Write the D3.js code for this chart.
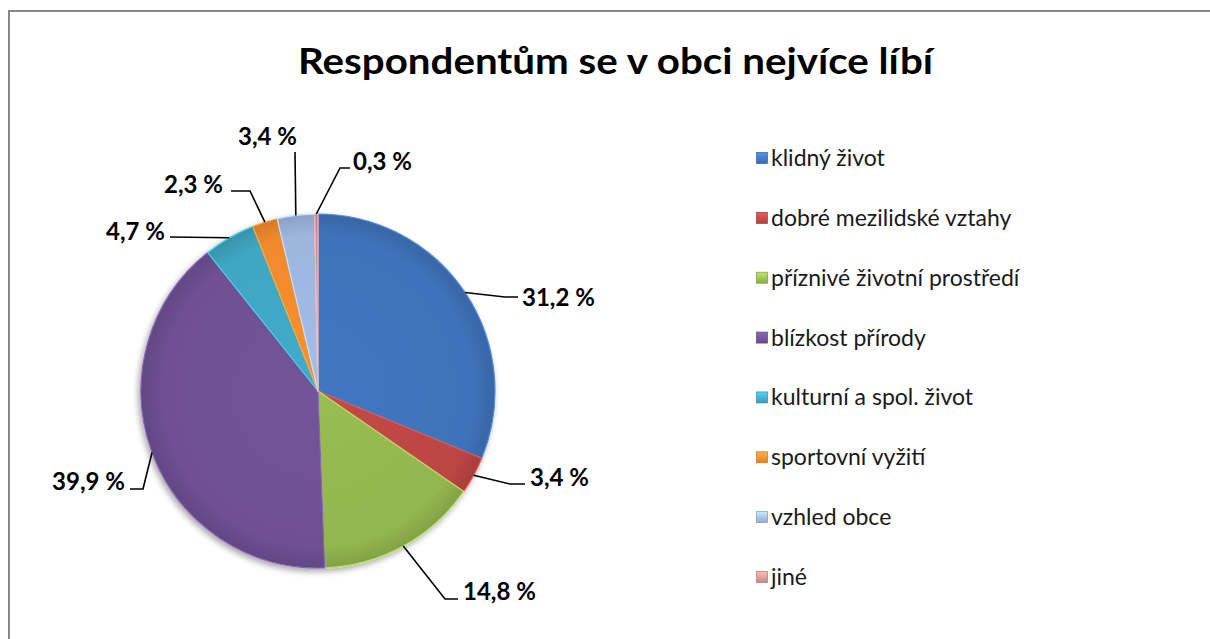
<!DOCTYPE html>
<html><head><meta charset="utf-8">
<script src="https://cdn.jsdelivr.net/npm/d3@7"></script>
<style>html,body{margin:0;padding:0;background:#fff;overflow:hidden}</style>
</head><body>
<svg id="chart" width="1210" height="639" style="display:block"></svg>
<script>
const categories = ["klidný život","dobré mezilidské vztahy","příznivé životní prostředí","blízkost přírody","kulturní a spol. život","sportovní vyžití","vzhled obce","jiné"];
const values = [31.2, 3.4, 14.8, 39.9, 4.7, 2.3, 3.4, 0.3];
const valueLabels = ["31,2 %","3,4 %","14,8 %","39,9 %","4,7 %","2,3 %","3,4 %","0,3 %"];
const colors = ["#3E73BA","#BC4643","#93B64F","#6F5094","#3FA6C2","#F18A2E","#9DB6E0","#D4918F"];

// label layout (manually placed labels in the original): elbow/end offsets and text anchor, relative to pie center
const labelLayout = [
  {pts:[[187,-94],[200,-94]], tx:204, ty:-93, anchor:"start"},
  {pts:[[192,93],[207,93]], tx:212, ty:87, anchor:"start"},
  {pts:[[127,208],[140,208]], tx:145, ty:201, anchor:"start"},
  {pts:[[-175,98],[-188,98]], tx:-193, ty:91, anchor:"end"},
  {pts:[[-148,-154]], tx:-153, ty:-159, anchor:"end"},
  {pts:[[-68,-200],[-87,-200]], tx:-95, ty:-206, anchor:"end"},
  {pts:[[-23,-239]], tx:-21, ty:-254, anchor:"end"},
  {pts:[[22,-223],[32,-223]], tx:35, ty:-229, anchor:"start"}
];

const svg = d3.select("#chart");
const font = "Lato, 'Open Sans', sans-serif";

// outer frame (left and top edges visible)
svg.append("path").attr("d","M9,700 V11 H1300").attr("fill","none")
  .attr("stroke","#878787").attr("stroke-width",2);

// title
svg.append("text").attr("x",615.5).attr("y",74).attr("text-anchor","middle")
  .attr("font-family",font).attr("font-weight","bold").attr("font-size",37)
  .attr("textLength",635).attr("lengthAdjust","spacingAndGlyphs")
  .attr("fill","#000").text("Respondentům se v obci nejvíce líbí");

const cx = 318, cy = 391, r = 177;
const defs = svg.append("defs");
const sh = defs.append("filter").attr("id","shadow").attr("x","-20%").attr("y","-20%").attr("width","140%").attr("height","140%");
sh.append("feGaussianBlur").attr("in","SourceAlpha").attr("stdDeviation",3);
sh.append("feOffset").attr("dx",-2).attr("dy",3).attr("result","b");
sh.append("feComponentTransfer").append("feFuncA").attr("type","linear").attr("slope",0.35);
const m = sh.append("feMerge"); m.append("feMergeNode"); m.append("feMergeNode").attr("in","SourceGraphic");

colors.forEach((c,i)=>{
  const g = defs.append("radialGradient").attr("id","g"+i).attr("gradientUnits","userSpaceOnUse")
    .attr("cx",0).attr("cy",0).attr("r",r);
  g.append("stop").attr("offset","0%").attr("stop-color",d3.color(c).brighter(0.1));
  g.append("stop").attr("offset","88%").attr("stop-color",c);
  g.append("stop").attr("offset","100%").attr("stop-color",d3.color(c).darker(0.35));
  const lg = defs.append("linearGradient").attr("id","l"+i).attr("x1",0).attr("y1",0).attr("x2",0).attr("y2",1);
  lg.append("stop").attr("offset","0%").attr("stop-color",d3.color(c).brighter(0.7));
  lg.append("stop").attr("offset","100%").attr("stop-color",d3.color(c).darker(0.2));
});

const pie = d3.pie().sort(null).value(d=>d).startAngle(0).endAngle(2*Math.PI);
const arcs = pie(values);
const arc = d3.arc().innerRadius(0).outerRadius(r);
const g = svg.append("g").attr("transform",`translate(${cx},${cy})`);
g.append("g").attr("filter","url(#shadow)").selectAll("path").data(arcs).join("path")
  .attr("d",arc).attr("fill",(d,i)=>`url(#g${i})`)
  .attr("stroke",(d,i)=>d3.color(colors[i]).brighter(0.6)).attr("stroke-width",1.2).attr("stroke-linejoin","round");

// leader lines and labels
arcs.forEach((d,i)=>{
  const a = (d.startAngle+d.endAngle)/2;
  const p0 = [r*Math.sin(a), -r*Math.cos(a)];
  const L = labelLayout[i];
  const pts = [p0].concat(L.pts);
  g.append("path").attr("d",d3.line()(pts)).attr("fill","none").attr("stroke","#000").attr("stroke-width",1.6);
  g.append("text").attr("x",L.tx).attr("y",L.ty).attr("dy","0.35em").attr("text-anchor",L.anchor)
    .attr("font-family",font).attr("font-weight","bold").attr("font-size",24).attr("fill","#000")
    .text(valueLabels[i]);
});

// legend
const ly = d3.scalePoint().domain(categories).range([158,577]);
const leg = svg.append("g");
categories.forEach((c,i)=>{
  const y = ly(c);
  leg.append("rect").attr("x",756.5).attr("y",y-5.5).attr("width",11).attr("height",11)
    .attr("fill",`url(#l${i})`).attr("stroke",d3.color(colors[i]).darker(0.5)).attr("stroke-width",0.7);
  leg.append("text").attr("x",771).attr("y",y).attr("dy","0.35em")
    .attr("font-family",font).attr("font-size",23).attr("fill","#1a1a1a").text(c);
});
</script>
</body></html>
